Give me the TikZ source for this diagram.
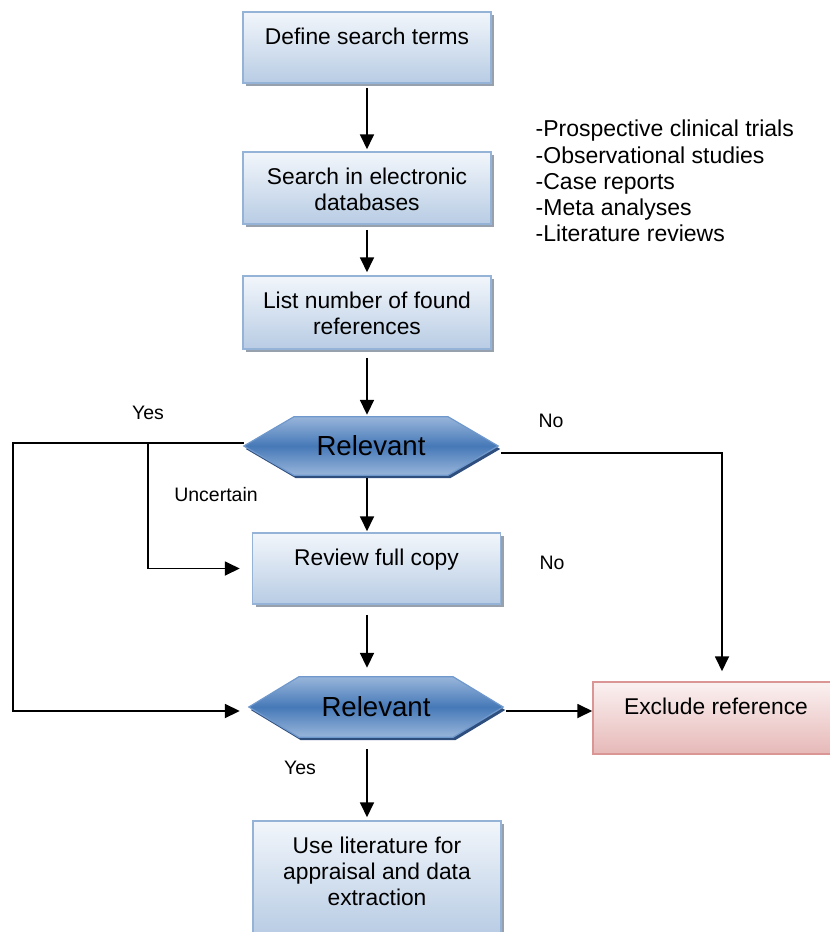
\documentclass[tikz,border=0pt]{standalone}
\usepackage{fontspec}
\setmainfont{Liberation Sans}
\usetikzlibrary{shadows,arrows.meta,backgrounds}

\definecolor{boxtop}{HTML}{F2F6FB}
\definecolor{boxbot}{HTML}{B8CCE4}
\definecolor{boxline}{HTML}{95B3D7}
\definecolor{boxshadow}{HTML}{97A1AE}
\definecolor{hexmid}{HTML}{4679B8}
\definecolor{hexedge}{HTML}{98B5DA}
\definecolor{hexline}{HTML}{6F98CC}
\definecolor{hexshadow}{HTML}{2E4E7E}
\definecolor{extop}{HTML}{FBF1F1}
\definecolor{exbot}{HTML}{E6B9B8}
\definecolor{exline}{HTML}{D99694}

\newcommand{\boxtxt}[3]{\parbox[c][#1pt][t]{#2pt}{\centering\rule{0pt}{32pt}#3}}
\newcommand{\hexpath}[1]{(#1.west) -- ([xshift=50pt]#1.north west) -- ([xshift=-50pt]#1.north east) -- (#1.east) -- ([xshift=-50pt]#1.south east) -- ([xshift=50pt]#1.south west) -- cycle}

\tikzset{
  flowbox/.style={draw=boxline, line width=1.5pt, top color=boxtop, bottom color=boxbot,
    inner sep=0pt, font=\fontsize{22.8}{26}\selectfont,
    drop shadow={shadow xshift=3pt, shadow yshift=-3pt, fill=boxshadow, opacity=1}},
  exbox/.style={draw=exline, line width=1.5pt, top color=extop, bottom color=exbot,
    inner sep=0pt, font=\fontsize{22.8}{26}\selectfont},
  hexnode/.style={rectangle, minimum width=254pt, minimum height=58pt, inner sep=0pt,
    font=\fontsize{27.6}{30}\selectfont},
  hexshape/.style={draw=hexline, line width=1.2pt, top color=hexedge, bottom color=hexedge,
    middle color=hexmid,
    drop shadow={shadow xshift=2pt, shadow yshift=-3pt, fill=hexshadow, opacity=1}},
  conn/.style={line width=1.8pt},
  arr/.style={conn, -{Triangle[length=15pt,width=14pt]}},
  lbl/.style={inner sep=0pt, font=\fontsize{19.5}{22}\selectfont}
}

\begin{document}
\begin{tikzpicture}[x=1pt,y=-1pt]
\path[use as bounding box, clip] (0,0) rectangle (830,932);

\node[flowbox] (b1) at (367,47.5) {\boxtxt{71}{248}{Define search terms}};
\node[flowbox] (b2) at (367,188) {\boxtxt{72}{248}{Search in electronic\\databases}};
\node[flowbox] (b3) at (367,312.5) {\boxtxt{73}{248}{List number of found\\references}};
\node[hexnode] (h1) at (371,446) {Relevant};
\node[flowbox] (b4) at (376.5,568.5) {\boxtxt{71}{248}{Review full copy}};
\node[hexnode, minimum height=60pt] (h2) at (376,707) {Relevant};
\node[exbox] (ex) at (716,718) {\boxtxt{72}{246}{Exclude reference}};
\node[flowbox] (b5) at (377,878) {\boxtxt{114}{248}{Use literature for\\appraisal and data\\extraction}};

\begin{pgfonlayer}{background}
  \path[hexshape] \hexpath{h1};
  \path[hexshape] \hexpath{h2};
\end{pgfonlayer}

\node[anchor=north west, align=left, inner sep=0pt, font=\fontsize{23}{26.2}\selectfont] (list) at (535.5,120)
  {-Prospective clinical trials\\-Observational studies\\-Case reports\\-Meta analyses\\-Literature reviews};

\node[lbl] (yes1) at (148,413) {Yes};
\node[lbl] (no1) at (551,421) {No};
\node[lbl] (unc) at (216,495) {Uncertain};
\node[lbl] (no2) at (552,563) {No};
\node[lbl] (yes2) at (300,768) {Yes};

\coordinate (L1) at (13,443);
\coordinate (L2) at (13,711);
\coordinate (U1) at (148,443);
\coordinate (R1) at (722,453);

\draw[arr, shorten <=4pt, shorten >=2pt] (b1.south) -- (b2.north);
\draw[arr, shorten <=5pt, shorten >=3pt] (b2.south) -- (b3.north);
\draw[arr, shorten <=8pt, shorten >=2pt] (b3.south) -- (b3.south |- h1.north);
\draw[arr, shorten <=3pt, shorten >=1pt] (h1.south -| b3.south) -- (b4.north -| b3.south);
\draw[arr, shorten <=10pt, shorten >=9pt] (b4.south -| b3.south) -- (h2.north -| b3.south);
\draw[arr, shorten <=12pt, shorten >=3pt] (h2.south -| b3.south) -- (b5.north -| b3.south);

\draw[arr, shorten >=9pt] (L1 -| h1.west) -- (L1) -- (L2) -- (L2 -| h2.west);
\draw[arr, shorten >=12pt] (U1) -- (U1 |- b4.west) -- (b4.west);
\draw[arr, shorten >=10pt] ([xshift=3pt]R1 -| h1.east) -- (R1) -- (R1 |- ex.north);
\draw[arr] ([shift={(3pt,-4pt)}]h2.east) -- ([yshift=-4pt]h2.east -| ex.west);
\end{tikzpicture}
\end{document}
